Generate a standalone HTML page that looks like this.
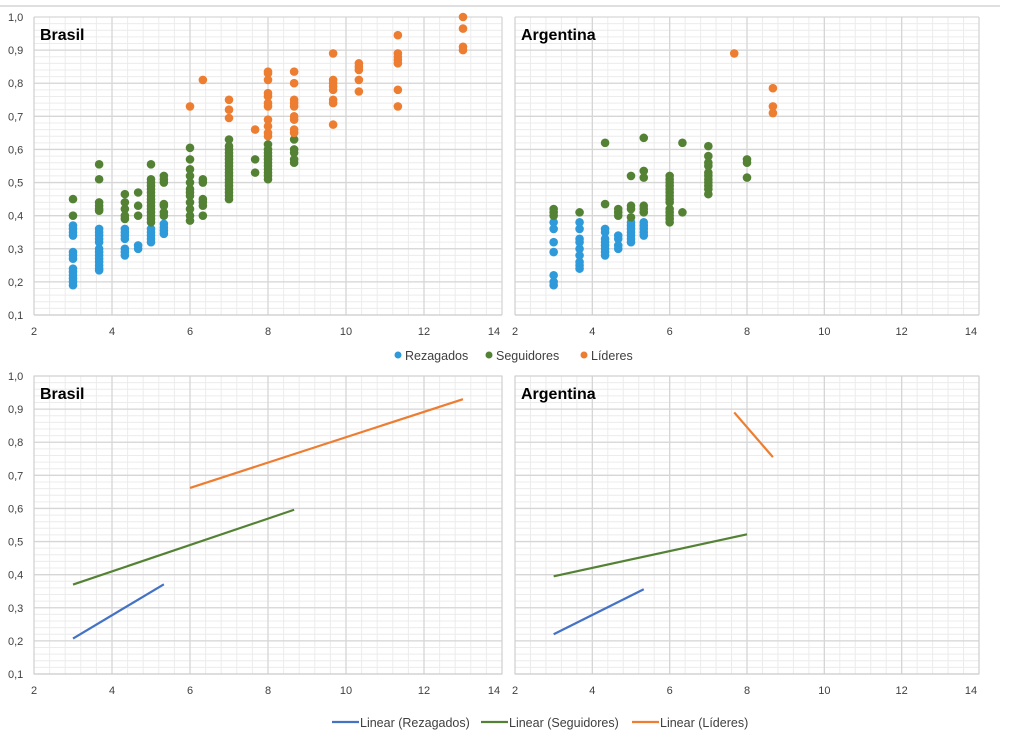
<!DOCTYPE html>
<html><head><meta charset="utf-8">
<style>
body{margin:0;background:#fff;width:1022px;height:740px;overflow:hidden;font-family:"Liberation Sans",sans-serif;}
svg{position:absolute;left:0;top:0;}
</style></head>
<body>
<svg id="chart" width="1022" height="740" xmlns="http://www.w3.org/2000/svg"></svg>
<script>
// ---- data ----
const xTicks=[2,4,6,8,10,12,14];
const yTicks=[0.1,0.2,0.3,0.4,0.5,0.6,0.7,0.8,0.9,1.0];
const yTickLabels=["0,1","0,2","0,3","0,4","0,5","0,6","0,7","0,8","0,9","1,0"];
const seriesNames=["Rezagados","Seguidores","Líderes"];
const brasilRezagados=[[3,[0.19,0.2,0.21,0.22,0.23,0.24,0.27,0.28,0.29,0.34,0.35,0.36,0.37]],[3.67,[0.235,0.24,0.25,0.26,0.27,0.28,0.29,0.3,0.32,0.33,0.34,0.35,0.36]],[4.33,[0.28,0.29,0.3,0.33,0.34,0.35,0.36]],[4.67,[0.3,0.31]],[5,[0.32,0.33,0.34,0.35,0.36]],[5.33,[0.345,0.355,0.365,0.375]]];
const brasilSeguidores=[[3,[0.4,0.45]],[3.67,[0.415,0.42,0.43,0.44,0.51,0.555]],[4.33,[0.39,0.4,0.42,0.44,0.465]],[4.67,[0.4,0.43,0.47]],[5,[0.38,0.39,0.4,0.41,0.42,0.43,0.44,0.45,0.46,0.47,0.48,0.49,0.5,0.51,0.555]],[5.33,[0.4,0.41,0.43,0.435,0.5,0.51,0.52]],[6,[0.385,0.4,0.42,0.44,0.46,0.47,0.48,0.5,0.52,0.54,0.57,0.605]],[6.33,[0.4,0.43,0.44,0.45,0.5,0.51]],[7,[0.45,0.46,0.47,0.48,0.49,0.5,0.51,0.52,0.53,0.54,0.55,0.56,0.57,0.58,0.59,0.6,0.61,0.63]],[7.67,[0.53,0.57]],[8,[0.51,0.52,0.53,0.54,0.55,0.56,0.57,0.58,0.59,0.6,0.615]],[8.67,[0.56,0.57,0.59,0.6,0.63]]];
const brasilLideres=[[6,[0.73]],[6.33,[0.81]],[7,[0.695,0.72,0.75]],[7.67,[0.66]],[8,[0.64,0.65,0.67,0.69,0.73,0.74,0.76,0.77,0.81,0.83,0.835]],[8.67,[0.65,0.66,0.69,0.7,0.73,0.74,0.75,0.8,0.835]],[9.67,[0.675,0.74,0.75,0.78,0.79,0.8,0.81,0.89]],[10.33,[0.775,0.81,0.84,0.85,0.86]],[11.33,[0.73,0.78,0.86,0.87,0.88,0.89,0.945]],[13,[0.9,0.91,0.965,1.0]]];
const argRezagados=[[3,[0.19,0.2,0.22,0.29,0.32,0.36,0.38]],[3.67,[0.24,0.25,0.26,0.28,0.3,0.32,0.33,0.36,0.38]],[4.33,[0.28,0.29,0.3,0.31,0.32,0.33,0.35,0.36]],[4.67,[0.3,0.31,0.33,0.34]],[5,[0.32,0.33,0.34,0.35,0.36,0.37,0.38]],[5.33,[0.34,0.35,0.36,0.37,0.38]]];
const argSeguidores=[[3,[0.4,0.41,0.42]],[3.67,[0.41]],[4.33,[0.435,0.62]],[4.67,[0.4,0.41,0.42]],[5,[0.395,0.42,0.43,0.52]],[5.33,[0.41,0.42,0.43,0.515,0.535,0.635]],[6,[0.38,0.39,0.4,0.41,0.42,0.44,0.45,0.46,0.47,0.48,0.49,0.5,0.51,0.52]],[6.33,[0.41,0.62]],[7,[0.465,0.48,0.49,0.5,0.51,0.52,0.53,0.55,0.56,0.58,0.61]],[8,[0.515,0.56,0.57]]];
const argLideres=[[7.67,[0.89]],[8.67,[0.71,0.73,0.785]]];
const brasilTrendRez=[[3,0.207],[5.33,0.371]];
const brasilTrendSeg=[[3,0.37],[8.67,0.596]];
const brasilTrendLid=[[6,0.662],[13,0.93]];
const argTrendRez=[[3,0.22],[5.33,0.356]];
const argTrendSeg=[[3,0.395],[8,0.522]];
const argTrendLid=[[7.67,0.89],[8.67,0.755]];
// ---- render ----
const NS="http://www.w3.org/2000/svg";
const svg=document.getElementById('chart');
function mk(tag,attrs,parent){const e=document.createElementNS(NS,tag);for(const k in attrs)e.setAttribute(k,attrs[k]);(parent||svg).appendChild(e);return e;}
const dotColors=["#2e9ad9","#548235","#ed7d31"];
const lineColors=["#4472c4","#548235","#ed7d31"];
function panel(name,title,x0,x1,y0,y1,border){
  const g=mk('g',{});
  
  
  const sx=v=>x0+(v-2)/12*(x1-x0);
  const sy=v=>y1-(v-0.1)/0.9*(y1-y0);
  for(let v=0.1;v<=1.0001;v+=0.02){mk('line',{x1:x0,x2:x1,y1:sy(v),y2:sy(v),stroke:'#ececec','stroke-width':1},g);}
  for(let v=2;v<=14.001;v+=0.4){mk('line',{x1:sx(v),x2:sx(v),y1:y0,y2:y1,stroke:'#ececec','stroke-width':1},g);}
  yTicks.forEach(v=>mk('line',{x1:x0,x2:x1,y1:sy(v),y2:sy(v),stroke:'#d6d6d6','stroke-width':1.3},g));
  xTicks.forEach(v=>mk('line',{x1:sx(v),x2:sx(v),y1:y0,y2:y1,stroke:'#d6d6d6','stroke-width':1.3},g));
  if(border) mk('rect',{x:x0,y:y0,width:x1-x0,height:y1-y0,fill:'none',stroke:'#d0d0d0'},g);
  else mk('line',{x1:x0,x2:x0,y1:y0,y2:y1,stroke:'#d0d0d0'},g);
  mk('line',{x1:x0,x2:x1,y1:y1,y2:y1,stroke:'#c8c8c8'},g);
  xTicks.forEach(v=>{const t=mk('text',{x:v==14?sx(v)-8:sx(v),y:y1+20,'font-size':11,'text-anchor':'middle',fill:'#404040'},g);t.textContent=v;
    
    });
  const tt=mk('text',{x:x0+6,y:y0+23,'font-size':16,'font-weight':'bold',fill:'#000'},g);tt.textContent=title;
  
  
  return {g,sx,sy};
}
function yAxis(y0,y1){yTicks.forEach((v,i)=>{const t=mk('text',{x:8,y:y1-(v-0.1)/0.9*(y1-y0)+4,'font-size':11,fill:'#404040'});t.textContent=yTickLabels[i];
  
  });}
function dots(p,data,ci){data.forEach(([x,ys])=>ys.forEach(y=>{const c=mk('circle',{cx:p.sx(x),cy:p.sy(y),r:4.3,fill:dotColors[ci]},p.g);
  
  }));}
function trend(p,data,ci){const l=mk('line',{x1:p.sx(data[0][0]),y1:p.sy(data[0][1]),x2:p.sx(data[1][0]),y2:p.sy(data[1][1]),stroke:lineColors[ci],'stroke-width':2.2},p.g);
  
  }
mk('line',{x1:0,x2:1000,y1:6,y2:6,stroke:'#bfbfbf'});
yAxis(17,315);
const p1=panel('scatter-brasil','Brasil',34,502,17,315,false);
const p2=panel('scatter-argentina','Argentina',515,979,17,315,false);
[brasilRezagados,brasilSeguidores,brasilLideres].forEach((d,i)=>dots(p1,d,i));
[argRezagados,argSeguidores,argLideres].forEach((d,i)=>dots(p2,d,i));
yAxis(376,674);
const p3=panel('trend-brasil','Brasil',34,502,376,674,true);
const p4=panel('trend-argentina','Argentina',515,979,376,674,true);
[brasilTrendRez,brasilTrendSeg,brasilTrendLid].forEach((d,i)=>trend(p3,d,i));
[argTrendRez,argTrendSeg,argTrendLid].forEach((d,i)=>trend(p4,d,i));
// legends
let lx=[398,489,584];
seriesNames.forEach((n,i)=>{const c=mk('circle',{cx:lx[i],cy:355,r:3.5,fill:dotColors[i]});
  
  
  const t=mk('text',{x:lx[i]+7,y:360,'font-size':12.5,fill:'#404040'});t.textContent=n;
  
  });
let lx2=[332,481,632];
seriesNames.forEach((n,i)=>{mk('line',{x1:lx2[i],x2:lx2[i]+27,y1:722,y2:722,stroke:lineColors[i],'stroke-width':2.2});
  const t=mk('text',{x:lx2[i]+28,y:727,'font-size':12.5,fill:'#404040'});t.textContent='Linear ('+n+')';
  
  });
</script>
</body></html>
